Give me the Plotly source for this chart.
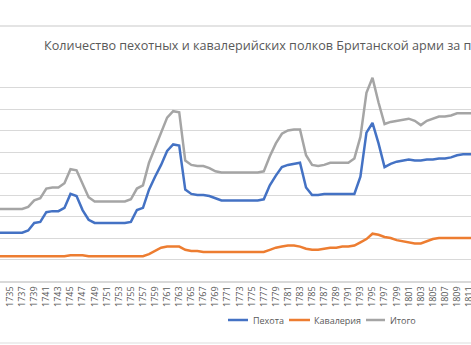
import plotly.graph_objects as go

years = list(range(1733, 1813))

infantry = [45, 45, 45, 45, 45, 47, 54, 55, 64, 65,
            65, 68, 81, 79, 66, 57, 54, 54, 54, 54,
            54, 54, 55, 66, 68, 85, 97, 108, 121, 127,
            126, 85, 81, 80, 80, 79, 77, 75, 75, 75,
            75, 75, 75, 75, 76, 89, 98, 106, 108, 109,
            110, 87, 80, 80, 81, 81, 81, 81, 81, 81,
            97, 138, 147, 128, 106, 109, 111, 112, 113, 112,
            112, 113, 113, 114, 114, 115, 117, 118, 118, 118]

cavalry = [23, 23, 23, 23, 23, 23, 23, 23, 23, 23,
           23, 23, 24, 24, 24, 23, 23, 23, 23, 23,
           23, 23, 23, 23, 23, 25, 28, 31, 32, 32,
           32, 29, 28, 28, 27, 27, 27, 27, 27, 27,
           27, 27, 27, 27, 27, 29, 31, 32, 33, 33,
           32, 30, 29, 29, 30, 31, 31, 32, 32, 33,
           36, 39, 44, 43, 41, 40, 38, 37, 36, 35,
           35, 37, 39, 40, 40, 40, 40, 40, 40, 40]

total = [67, 67, 67, 67, 67, 69, 75, 77, 86, 87,
         87, 91, 104, 103, 91, 78, 74, 74, 74, 74,
         74, 74, 76, 86, 89, 110, 124, 138, 152, 158,
         157, 112, 108, 107, 107, 105, 102, 101, 101, 101,
         101, 101, 101, 101, 102, 116, 128, 137, 140, 141,
         141, 117, 108, 107, 108, 110, 110, 110, 110, 114,
         134, 175, 189, 166, 146, 148, 149, 150, 151, 149,
         145, 149, 151, 153, 153, 154, 156, 156, 156, 156]

tick_years = list(range(1733, 1813, 2))
series_names = ["Пехота", "Кавалерия", "Итого"]
colors = ["#4472C4", "#ED7D31", "#A5A5A5"]
title_text = "Количество пехотных и кавалерийских полков Британской арми за период 1733-1812 гг."

fig = go.Figure()
for name, vals, col in zip(series_names, [infantry, cavalry, total], colors):
    fig.add_trace(go.Scatter(x=years, y=vals, mode="lines", name=name,
                             line=dict(color=col, width=2.5), showlegend=False))

W, H = 471, 345
t, b = 66, 64
ph = H - t - b

def py(pix):
    return (H - b - pix) / ph

def px(pix):
    return pix / W

shapes = [
    dict(type="line", xref="paper", yref="paper", x0=0, x1=1, y0=py(26), y1=py(26),
         line=dict(color="#e4e4e4", width=2)),
    dict(type="line", xref="paper", yref="paper", x0=0, x1=1, y0=py(343), y1=py(343),
         line=dict(color="#eeeeee", width=2)),
]
annotations = []
legend_items = [(228, 248, 251), (289, 310, 312), (366, 385, 388)]
for (lx0, lx1, tx), name, col in zip(legend_items, series_names, colors):
    shapes.append(dict(type="line", xref="paper", yref="paper", x0=px(lx0), x1=px(lx1),
                       y0=py(320), y1=py(320), line=dict(color=col, width=2.5)))
    annotations.append(dict(text=name, xref="paper", yref="paper", x=px(tx), y=py(320),
                            xanchor="left", yanchor="middle", showarrow=False,
                            font=dict(size=9, color="#595959", family="Open Sans")))

fig.update_layout(
    width=W, height=H,
    margin=dict(l=0, r=0, t=t, b=b, pad=0),
    paper_bgcolor="white", plot_bgcolor="white",
    title=dict(text=title_text, xref="paper", x=px(44), xanchor="left",
               yref="container", y=1 - 46 / H, yanchor="middle",
               font=dict(size=12.6, color="#595959", family="Open Sans")),
    xaxis=dict(range=[1733.33, 1811.31], tickmode="array", tickvals=tick_years,
               ticktext=[str(y) for y in tick_years], tickangle=-90,
               ticklabeloverflow="allow",
               tickfont=dict(size=9, color="#595959", family="Open Sans"),
               showgrid=False, showline=True, linecolor="#d9d9d9", linewidth=1.5,
               ticks="", zeroline=False, automargin=False, fixedrange=True),
    yaxis=dict(range=[0, 200], dtick=20, showticklabels=False, showgrid=True,
               gridcolor="#d9d9d9", gridwidth=1, zeroline=False, ticks="",
               automargin=False, fixedrange=True),
    shapes=shapes, annotations=annotations,
)

fig.write_html("out.html")
